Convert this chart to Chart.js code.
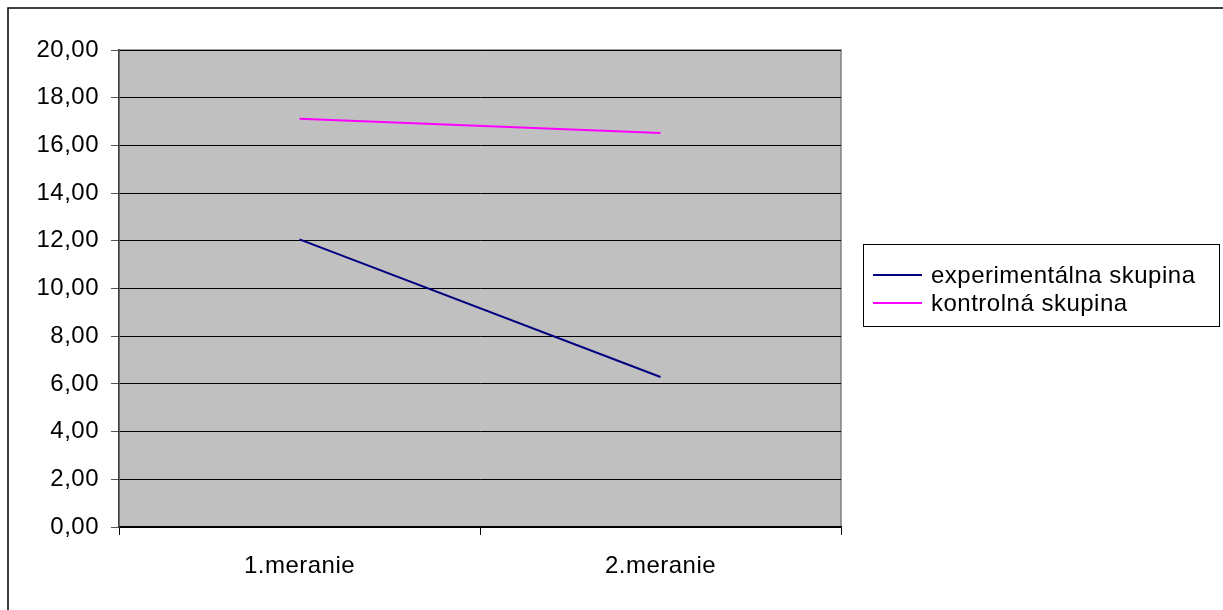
<!DOCTYPE html>
<html>
<head>
<meta charset="utf-8">
<script src="https://cdn.jsdelivr.net/npm/chart.js@4/dist/chart.umd.min.js"></script>
<style>
  html, body { margin: 0; padding: 0; background: #fff; }
  #wrap { position: relative; width: 1223px; height: 610px; }
  canvas { display: block; }
</style>
</head>
<body>
<div id="wrap"><canvas id="c" width="1223" height="610"></canvas></div>
<script>
const categories = ['1.meranie', '2.meranie'];
const experimentalna = [12.06, 6.29];
const kontrolna = [17.12, 16.52];
const seriesNames = ['experimentálna skupina', 'kontrolná skupina'];
const seriesColors = ['#000080', '#FF00FF'];
const yTicks = [0, 2, 4, 6, 8, 10, 12, 14, 16, 18, 20];

const FONT = 'Liberation Sans, Arial, sans-serif';
const FSIZE = 24;
const SPACING = '0.5px';

const framePlugin = {
  id: 'frame',
  beforeDraw(chart) {
    const ctx = chart.ctx;
    const a = chart.chartArea;
    ctx.save();
    ctx.strokeStyle = '#000';
    ctx.lineWidth = 1.5;
    ctx.strokeRect(8, 8, 1240, 640);
    ctx.fillStyle = '#C0C0C0';
    ctx.fillRect(a.left, a.top, a.right - a.left, a.bottom - a.top);
    ctx.strokeStyle = '#808080';
    ctx.lineWidth = 1.5;
    ctx.strokeRect(a.left, a.top, a.right - a.left, a.bottom - a.top);
    ctx.restore();
    ctx.letterSpacing = SPACING;
  },
  afterDraw(chart) {
    const ctx = chart.ctx;
    ctx.save();
    const bx = 863, by = 244, bw = 356, bh = 82;
    ctx.fillStyle = '#fff';
    ctx.fillRect(bx, by, bw, bh);
    ctx.strokeStyle = '#000';
    ctx.lineWidth = 1;
    ctx.strokeRect(bx + 0.5, by + 0.5, bw, bh);
    ctx.font = FSIZE + 'px ' + FONT;
    ctx.letterSpacing = SPACING;
    ctx.textBaseline = 'middle';
    ctx.textAlign = 'left';
    chart.data.datasets.forEach((ds, i) => {
      const y = by + 31 + i * 28;
      ctx.strokeStyle = ds.borderColor;
      ctx.lineWidth = 2;
      ctx.beginPath();
      ctx.moveTo(873, y);
      ctx.lineTo(922, y);
      ctx.stroke();
      ctx.fillStyle = '#000';
      ctx.fillText(ds.label, 931, y + 1);
    });
    ctx.restore();
  }
};

new Chart(document.getElementById('c'), {
  type: 'line',
  data: {
    labels: categories,
    datasets: [
      { label: seriesNames[0], data: experimentalna, borderColor: seriesColors[0], backgroundColor: seriesColors[0], borderWidth: 2, pointRadius: 0, tension: 0 },
      { label: seriesNames[1], data: kontrolna, borderColor: seriesColors[1], backgroundColor: seriesColors[1], borderWidth: 2, pointRadius: 0, tension: 0 }
    ]
  },
  options: {
    responsive: false,
    animation: false,
    events: [],
    layout: { padding: { left: 0, top: 50, right: 1223 - 841, bottom: 0 } },
    plugins: { legend: { display: false }, tooltip: { enabled: false } },
    scales: {
      x: {
        offset: true,
        grid: { display: true, offset: true, drawOnChartArea: false, drawTicks: true, tickLength: 8, color: '#000', lineWidth: 1 },
        border: { display: true, color: '#000', width: 1.5 },
        ticks: { color: '#000', font: { family: FONT, size: FSIZE }, padding: 17, maxRotation: 0 },
        afterFit(s) { s.height = 83; }
      },
      y: {
        min: 0, max: 20,
        afterBuildTicks(s) { s.ticks = yTicks.map(v => ({ value: v })); },
        grid: { color: '#000', lineWidth: 1, drawTicks: true, tickLength: 8, tickColor: '#555' },
        border: { display: true, color: '#404040', width: 1.5 },
        ticks: {
          color: '#000', font: { family: FONT, size: FSIZE }, padding: 12,
          callback: v => v.toFixed(2).replace('.', ',')
        },
        afterFit(s) { s.width = 119; }
      }
    }
  },
  plugins: [framePlugin]
});
</script>
</body>
</html>
